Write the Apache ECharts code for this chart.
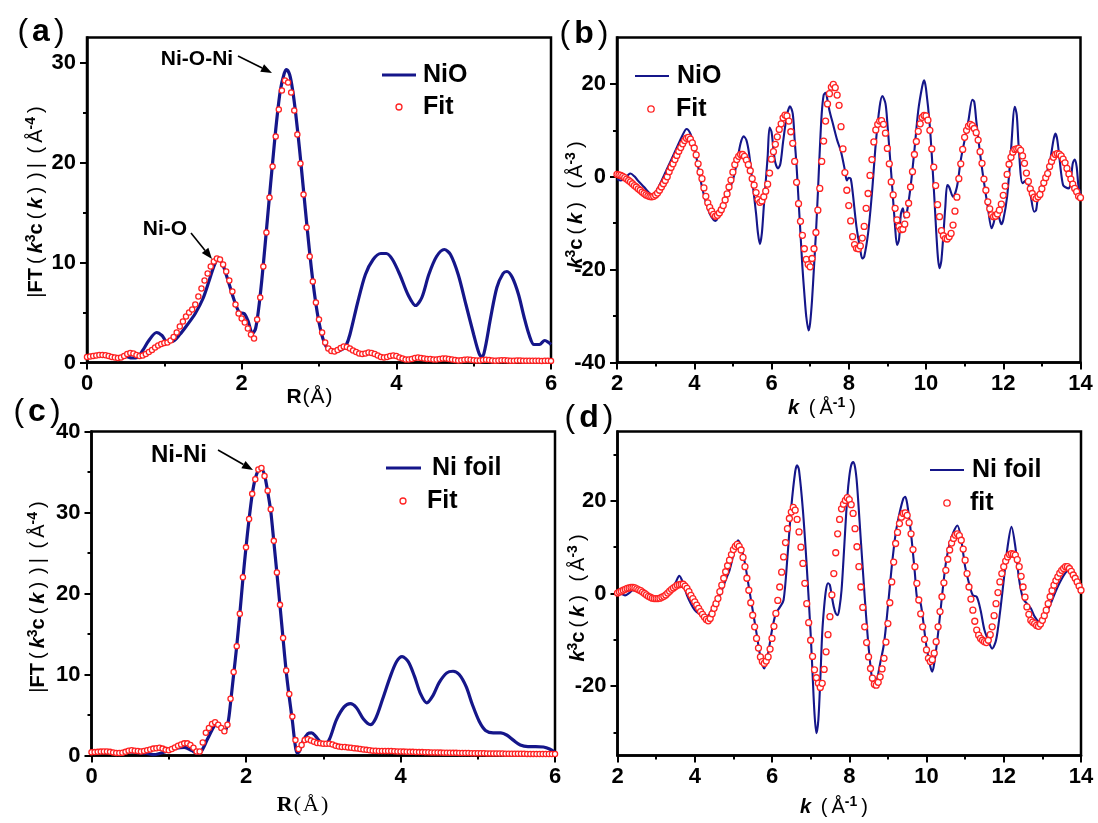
<!DOCTYPE html>
<html>
<head>
<meta charset="utf-8">
<script src="https://cdn.jsdelivr.net/npm/echarts@6/dist/echarts.min.js"></script>
<style>
  html, body { margin: 0; padding: 0; background: #fff; }
  #chart { width: 1098px; height: 823px; }
</style>
</head>
<body>
<div id="chart"></div>
<script>
// ---------- tick positions ----------
const rMajor = [0, 2, 4, 6];
const rMinor = [1, 3, 5];
const kMajor = [2, 4, 6, 8, 10, 12, 14];
const kMinor = [3, 5, 7, 9, 11, 13];
const ftNiOMajor = [0, 10, 20, 30];
const ftNiOMinor = [5, 15, 25];
const ftNiMajor = [0, 10, 20, 30, 40];
const ftNiMinor = [5, 15, 25, 35];
const chiNiOMajor = [-40, -20, 0, 20];
const chiNiOMinor = [-30, -10, 10];
const chiNiMajor = [-20, 0, 20];
const chiNiMinor = [-30, -10, 10, 30];

// ---------- fit sampling ----------
const R_START = 0, R_STEP = 0.04;   // fits in R space
const K_START = 2, K_STEP = 0.05;   // fits in k space

// (a) NiO |FT| measured
const nioFTLine = [
  [0,0.55],[0.1,0.7],[0.2,0.75],[0.3,0.65],[0.4,0.5],[0.5,0.6],[0.58,0.45],[0.65,0.5],[0.72,1.2],[0.8,2.2],
  [0.9,3.0],[0.97,2.7],[1.03,2.1],[1.1,2.1],[1.2,2.8],[1.3,3.8],[1.4,4.9],[1.5,6.4],[1.58,8.2],[1.65,9.8],
  [1.7,10.3],[1.75,9.9],[1.82,8.3],[1.9,6.3],[1.97,5.0],[2.03,4.9],[2.08,4.2],[2.14,2.9],[2.18,3.4],[2.22,5.4],
  [2.26,8.2],[2.3,11.5],[2.35,15.8],[2.4,20.0],[2.45,24.0],[2.5,27.2],[2.55,28.9],[2.58,29.3],[2.62,28.8],[2.66,27.2],
  [2.7,24.8],[2.75,21.2],[2.8,17.2],[2.85,13.2],[2.9,9.5],[2.95,6.4],[3.0,4.0],[3.05,2.4],[3.1,1.5],[3.16,1.15],
  [3.24,1.15],[3.3,1.3],[3.35,1.7],[3.4,2.8],[3.5,6.0],[3.6,8.8],[3.7,10.3],[3.8,10.9],[3.87,10.9],[3.95,10.3],
  [4.05,8.7],[4.15,6.8],[4.25,5.7],[4.33,6.5],[4.42,8.8],[4.52,10.6],[4.62,11.3],[4.7,10.8],[4.8,8.8],[4.9,5.8],
  [5.0,2.8],[5.07,0.9],[5.11,0.5],[5.15,1.5],[5.22,4.5],[5.3,7.5],[5.38,8.9],[5.43,9.1],[5.5,8.5],[5.58,6.8],
  [5.65,4.6],[5.72,2.7],[5.78,1.8],[5.85,1.8],[5.92,2.2],[5.97,2.0],[6.0,1.8]
];
// (a) NiO |FT| fit, R = 0 ... 6
const nioFTFit = [
  0.55,0.6,0.65,0.7,0.75,0.75,0.72,0.65,0.55,0.5,0.45,0.5,0.65,0.85,0.95,0.9,0.75,0.65,0.7,0.85,1.05,1.25,1.5,1.7,1.85,
  1.95,2.0,2.2,2.55,3.0,3.6,4.1,4.6,5.0,5.3,5.8,6.6,7.4,8.2,8.9,9.6,10.1,10.4,10.3,9.8,9.1,8.2,7.1,5.8,4.9,
  4.4,4.0,3.4,2.8,2.4,4.3,6.5,9.6,13.0,16.5,19.6,22.6,25.3,27.2,28.2,28.0,27.0,25.2,22.8,19.9,16.8,13.5,10.6,8.1,6.0,
  4.3,3.0,2.0,1.4,1.15,1.1,1.25,1.45,1.6,1.55,1.4,1.2,1.05,0.9,0.85,0.9,1.0,0.95,0.85,0.7,0.55,0.5,0.55,0.65,0.7,
  0.65,0.5,0.4,0.3,0.3,0.35,0.45,0.5,0.45,0.4,0.35,0.35,0.3,0.3,0.35,0.4,0.4,0.35,0.3,0.25,0.2,0.22,0.28,0.3,0.28,
  0.22,0.2,0.2,0.25,0.28,0.25,0.2,0.18,0.2,0.22,0.22,0.2,0.18,0.18,0.2,0.2,0.18,0.17,0.17,0.18,0.18,0.17,0.16,0.17,0.17,
  0.16
];

// (b) NiO k^3 chi(k) measured
const nioChiLine = [
  [2.00,-0.5],[2.10,-0.8],[2.20,-0.4],[2.30,0.5],[2.35,0.7],[2.45,0.1],[2.55,-0.9],[2.70,-2.2],[2.85,-3.6],[2.92,-4.0],
  [3.00,-3.3],[3.10,-1.8],[3.30,1.8],[3.50,5.4],[3.70,9.0],[3.80,10.3],[3.90,9.3],[4.00,6.5],[4.10,2.2],[4.20,-2.2],
  [4.30,-5.4],[4.40,-7.9],[4.50,-9.3],[4.55,-9.5],[4.60,-9.0],[4.70,-6.5],[4.80,-4.3],[4.90,-2.9],[5.00,-0.7],[5.10,2.9],
  [5.20,7.2],[5.28,8.7],[5.35,7.9],[5.42,5.0],[5.50,-0.7],[5.60,-7.9],[5.65,-12.2],[5.70,-14.5],[5.75,-12.2],[5.80,-6.5],
  [5.90,4.3],[5.95,10.6],[6.00,9.7],[6.05,6.0],[6.10,3.0],[6.17,1.8],[6.23,2.8],[6.30,7.5],[6.40,13.3],[6.48,15.2],
  [6.55,13.6],[6.60,7.9],[6.65,2.2],[6.70,-5.0],[6.75,-12.2],[6.80,-19.4],[6.85,-25.1],[6.90,-30.1],[6.96,-33.1],[7.00,-31.5],
  [7.05,-26.5],[7.10,-19.4],[7.15,-12.2],[7.20,-3.6],[7.25,5.7],[7.30,13.6],[7.35,17.6],[7.40,18.1],[7.45,16.5],[7.50,14.3],
  [7.60,11.1],[7.70,7.9],[7.80,5.4],[7.90,1.4],[7.95,-0.8],[8.00,-0.2],[8.05,-0.4],[8.10,-3.2],[8.20,-10.8],[8.30,-15.8],
  [8.35,-17.6],[8.40,-17.2],[8.50,-12.2],[8.60,-3.6],[8.70,7.2],[8.80,15.1],[8.87,17.4],[8.95,15.8],[9.00,11.5],[9.10,0.7],
  [9.20,-10.8],[9.25,-14.7],[9.30,-13.6],[9.35,-8.0],[9.40,-6.8],[9.45,-8.8],[9.50,-7.9],[9.60,-2.2],[9.70,5.7],[9.80,14.3],
  [9.90,19.4],[9.95,20.8],[10.00,19.0],[10.10,10.8],[10.20,-2.2],[10.30,-16.5],[10.35,-19.7],[10.40,-17.9],[10.50,-6.5],[10.55,-1.8],
  [10.60,-2.2],[10.70,-4.3],[10.80,-2.2],[10.90,3.6],[11.00,7.9],[11.10,12.2],[11.20,16.6],[11.25,16.1],[11.30,12.2],[11.40,5.0],
  [11.50,-1.1],[11.60,-6.5],[11.70,-11.1],[11.75,-10.0],[11.82,-7.9],[11.88,-8.5],[11.95,-10.2],[12.00,-9.3],[12.10,-4.3],[12.20,5.7],
  [12.30,15.1],[12.35,13.3],[12.40,6.5],[12.50,-1.4],[12.60,-0.7],[12.70,-3.6],[12.80,-7.5],[12.85,-7.2],[12.90,-4.3],[13.00,-1.8],
  [13.10,0.4],[13.20,2.9],[13.30,7.9],[13.35,9.3],[13.40,7.9],[13.50,0.7],[13.55,-1.8],[13.60,-2.2],[13.70,-2.5],[13.75,-0.7],
  [13.80,2.9],[13.85,3.7],[13.90,2.2],[13.95,-2.2],[14.00,-3.6]
];
// (b) NiO k^3 chi(k) fit, k = 2 ... 14
const nioChiFit = [
  0.5,0.4,0.3,0.1,-0.2,-0.5,-0.8,-1.1,-1.5,-1.9,-2.2,-2.6,-2.9,-3.3,-3.6,-3.9,-4.1,-4.25,-4.3,-4.2,
  -3.9,-3.5,-2.9,-2.2,-1.5,-0.8,0.0,1.1,2.0,2.8,3.7,4.6,5.5,6.3,7.1,7.8,8.3,8.5,8.1,7.3,
  6.2,4.7,2.8,1.0,-0.4,-2.4,-4.2,-5.6,-6.6,-7.4,-8.1,-8.5,-8.3,-7.8,-7.1,-6.2,-5.0,-3.7,-2.2,-0.7,
  1.0,2.6,3.7,4.4,4.8,4.8,4.4,3.6,2.6,1.3,-0.4,-1.8,-3.4,-4.9,-5.5,-5.2,-4.3,-3.1,-1.6,0.8,
  3.8,5.4,7.0,8.6,10.2,11.4,12.7,13.3,13.1,12.0,9.7,7.2,3.3,-1.2,-5.8,-9.6,-12.6,-15.5,-17.8,-18.9,
  -19.4,-17.6,-15.5,-12.0,-7.2,-2.5,3.3,7.7,12.0,15.7,17.9,19.3,19.9,19.2,17.6,15.4,10.8,6.0,0.9,-2.9,
  -6.2,-9.5,-12.9,-14.6,-15.4,-15.5,-14.9,-13.2,-10.7,-6.8,-3.6,0.3,3.7,7.5,10.1,11.3,12.0,12.1,11.3,9.4,
  6.1,2.8,-1.1,-3.9,-6.8,-9.3,-10.7,-11.4,-11.3,-10.2,-8.2,-5.7,-2.2,1.1,4.8,7.6,9.8,11.4,12.8,13.2,
  13.1,12.2,10.0,6.0,2.1,-1.9,-6.0,-8.6,-11.6,-12.7,-13.3,-13.4,-12.9,-12.2,-10.4,-7.4,-4.4,-0.4,2.8,5.9,
  8.5,10.0,10.9,11.3,11.0,10.4,9.5,7.9,5.4,2.9,-0.5,-2.9,-5.4,-6.9,-8.2,-8.6,-8.5,-8.0,-7.2,-5.9,
  -4.0,-2.0,0.5,2.7,4.2,5.3,5.9,6.0,6.1,5.7,4.5,2.9,0.8,-1.0,-2.6,-3.6,-4.4,-4.7,-4.3,-3.8,
  -2.6,-1.3,-0.2,0.7,2.2,3.3,4.2,4.8,5.0,4.9,4.5,3.8,3.0,1.8,0.6,-0.5,-1.6,-2.5,-3.2,-4.2,
  -4.5
];

// (c) Ni foil |FT| measured
const niFTLine = [
  [0,0.4],[0.2,0.45],[0.4,0.35],[0.5,0.45],[0.6,0.35],[0.7,0.3],[0.8,0.1],[0.9,0.3],[1.0,0.6],[1.1,0.9],
  [1.2,1.0],[1.3,0.6],[1.36,0.3],[1.42,0.5],[1.5,2.0],[1.58,3.5],[1.62,3.9],[1.68,3.5],[1.73,3.1],[1.77,4.2],
  [1.8,6.5],[1.84,10.0],[1.88,13.5],[1.92,17.5],[1.96,21.8],[2.0,25.7],[2.04,29.2],[2.08,32.2],[2.12,34.2],[2.16,35.2],
  [2.2,35.4],[2.24,34.6],[2.28,32.6],[2.32,30.2],[2.36,26.4],[2.4,22.5],[2.44,18.5],[2.48,14.4],[2.52,10.4],[2.56,7.2],
  [2.6,4.3],[2.63,1.8],[2.66,0.3],[2.69,0.5],[2.74,1.8],[2.8,2.7],[2.85,2.8],[2.9,2.4],[2.96,1.7],[3.02,1.35],
  [3.08,2.0],[3.17,4.4],[3.27,6.0],[3.35,6.4],[3.43,5.9],[3.52,4.5],[3.61,3.8],[3.68,4.6],[3.77,7.0],[3.87,9.8],
  [3.95,11.6],[4.02,12.2],[4.1,11.6],[4.18,9.8],[4.26,7.6],[4.34,6.5],[4.42,7.4],[4.5,9.0],[4.6,10.2],[4.68,10.4],
  [4.76,10.0],[4.85,8.5],[4.93,6.3],[5.02,4.2],[5.1,3.1],[5.2,2.8],[5.3,2.8],[5.38,2.5],[5.46,1.9],[5.55,1.3],
  [5.65,1.1],[5.75,1.1],[5.85,1.05],[5.93,0.8],[6.0,0.4]
];
// (c) Ni foil |FT| fit, R = 0 ... 6
const niFTFit = [
  0.4,0.42,0.45,0.48,0.5,0.5,0.45,0.38,0.32,0.3,0.35,0.45,0.6,0.65,0.6,0.55,0.5,0.55,0.65,0.75,0.85,0.9,0.95,0.85,0.7,
  0.65,0.8,1.0,1.2,1.35,1.5,1.5,1.3,0.95,0.5,0.5,1.6,2.8,3.4,3.9,4.1,3.8,3.4,3.0,3.8,7.0,10.3,13.5,17.5,22.0,
  25.7,29.2,32.3,34.1,35.3,35.5,34.5,32.7,30.4,26.5,22.6,18.6,14.5,10.5,7.6,4.8,1.9,0.8,1.3,1.9,2.0,1.85,1.7,1.55,1.5,
  1.45,1.45,1.45,1.35,1.2,1.1,1.05,1.05,1.0,0.95,0.9,0.85,0.8,0.75,0.7,0.65,0.6,0.58,0.55,0.55,0.55,0.55,0.55,0.52,0.5,
  0.5,0.48,0.47,0.45,0.45,0.44,0.42,0.42,0.4,0.4,0.38,0.38,0.37,0.36,0.35,0.35,0.34,0.33,0.33,0.32,0.31,0.3,0.3,0.29,0.28,
  0.28,0.27,0.27,0.26,0.26,0.25,0.25,0.24,0.24,0.23,0.23,0.22,0.22,0.22,0.21,0.21,0.2,0.2,0.2,0.19,0.19,0.19,0.18,0.18,0.18,
  0.18
];

// (d) Ni foil k^3 chi(k) measured
const niChiLine = [
  [2.00,0.0],[2.10,-0.1],[2.20,-0.4],[2.30,0.1],[2.40,0.7],[2.50,0.6],[2.60,0.1],[2.80,-0.7],[3.00,-1.4],[3.10,-1.3],
  [3.20,-0.7],[3.40,0.9],[3.50,2.3],[3.60,3.8],[3.70,2.2],[3.80,-0.4],[3.90,-2.2],[4.00,-3.6],[4.10,-4.3],[4.20,-4.7],
  [4.30,-4.9],[4.40,-4.3],[4.50,-2.2],[4.60,-1.1],[4.70,0.7],[4.80,2.9],[4.90,5.0],[5.00,8.3],[5.12,11.5],[5.20,10.1],
  [5.30,6.5],[5.40,1.4],[5.50,-3.6],[5.60,-8.6],[5.70,-13.7],[5.80,-16.2],[5.90,-12.9],[6.00,-7.9],[6.10,-4.3],[6.20,-3.0],
  [6.30,-1.4],[6.40,7.9],[6.50,18.7],[6.60,26.3],[6.65,27.7],[6.70,26.6],[6.80,18.0],[6.90,5.8],[7.00,-8.6],[7.05,-17.3],
  [7.10,-25.9],[7.15,-30.2],[7.20,-27.3],[7.25,-18.7],[7.30,-8.6],[7.35,-2.9],[7.40,0.9],[7.45,2.2],[7.50,1.8],[7.55,-0.7],
  [7.60,-2.9],[7.65,-4.3],[7.70,-4.7],[7.75,-2.9],[7.80,0.7],[7.85,7.2],[7.90,14.4],[7.95,20.9],[8.00,25.2],[8.05,27.7],
  [8.10,28.4],[8.15,27.3],[8.20,23.7],[8.30,11.5],[8.40,-0.7],[8.50,-11.5],[8.60,-19.1],[8.65,-20.3],[8.70,-19.4],[8.80,-15.1],
  [8.90,-10.8],[9.00,-2.9],[9.10,5.8],[9.20,12.9],[9.30,17.3],[9.40,20.5],[9.45,20.9],[9.50,19.4],[9.60,12.9],[9.70,4.3],
  [9.75,-0.7],[9.80,-1.4],[9.85,-2.2],[9.90,-5.0],[10.00,-11.5],[10.10,-15.8],[10.15,-16.9],[10.20,-15.1],[10.30,-8.6],[10.40,-0.7],
  [10.50,6.5],[10.60,10.8],[10.70,13.3],[10.80,14.7],[10.90,11.5],[11.00,5.8],[11.10,2.2],[11.20,-0.4],[11.30,-0.7],[11.40,-3.6],
  [11.50,-7.9],[11.60,-10.1],[11.70,-11.9],[11.80,-10.1],[11.90,-4.3],[12.00,2.9],[12.10,10.1],[12.20,14.4],[12.30,10.1],[12.40,2.9],
  [12.50,-1.1],[12.60,-2.2],[12.70,-3.2],[12.80,-5.0],[12.90,-6.1],[13.00,-6.5],[13.10,-4.3],[13.20,-2.5],[13.40,1.5],[13.60,4.5],
  [13.70,5.0],[13.80,4.3],[13.90,2.8],[14.00,0.6]
];
// (d) Ni foil k^3 chi(k) fit, k = 2 ... 14
const niChiFit = [
  0.1,0.3,0.5,0.7,0.9,1.1,1.2,1.3,1.3,1.2,1.0,0.8,0.6,0.3,0.0,-0.3,-0.6,-0.8,-1.0,-1.1,
  -1.1,-1.1,-1.0,-0.8,-0.6,-0.3,0.1,0.5,0.9,1.2,1.5,1.8,1.9,2.0,2.0,1.6,1.1,0.4,-0.4,-1.1,
  -1.8,-2.5,-3.2,-3.9,-4.5,-5.1,-5.6,-5.9,-5.4,-4.4,-3.2,-2.2,-1.1,0.4,1.8,3.3,4.7,6.0,7.2,8.4,
  9.5,10.2,10.6,10.2,9.4,7.8,5.8,3.3,0.7,-2.0,-4.7,-7.2,-9.7,-11.8,-13.7,-14.7,-15.1,-14.6,-13.7,-12.0,
  -9.7,-7.1,-4.3,-1.5,1.4,4.6,7.9,11.0,14.0,16.2,17.6,18.6,18.0,16.0,13.3,10.0,6.5,2.2,-2.2,-6.3,
  -10.1,-13.6,-16.5,-18.2,-19.4,-20.3,-19.4,-16.4,-12.6,-8.9,-5.0,-0.3,4.3,8.8,12.9,16.0,18.3,19.3,20.1,20.7,
  20.3,19.2,17.3,14.0,10.1,5.8,1.4,-3.0,-7.2,-10.6,-13.7,-16.2,-18.3,-19.6,-19.8,-19.2,-18.0,-16.3,-14.0,-10.5,
  -6.5,-2.0,2.5,6.8,10.8,13.2,15.1,16.5,17.3,17.4,16.9,15.3,12.9,9.5,5.8,2.2,-1.4,-4.4,-7.2,-9.9,
  -12.2,-14.0,-14.7,-14.3,-12.9,-10.4,-7.2,-3.9,-0.7,2.3,5.0,7.4,9.4,10.9,11.9,12.6,12.9,12.5,11.5,9.6,
  7.2,4.3,1.4,-1.2,-3.6,-6.0,-7.9,-9.0,-9.7,-10.1,-10.4,-10.6,-10.1,-8.9,-7.2,-4.8,-2.2,0.2,2.5,4.3,
  5.8,7.0,7.9,8.4,8.6,8.5,8.3,7.3,5.8,3.7,1.4,-0.8,-2.9,-4.5,-5.8,-6.2,-6.5,-6.9,-7.1,-6.6,
  -5.8,-4.8,-3.6,-2.2,-0.7,0.6,1.8,2.8,3.6,4.4,5.0,5.4,5.8,5.8,5.4,4.8,4.0,3.3,2.5,1.6,
  0.7
];

// ---------- styling ----------
const NAVY = '#15168a';
const RED = '#ff2222';
const SANS = '"Liberation Sans", Arial, sans-serif';
const SERIF = '"Liberation Serif", "Times New Roman", serif';

function sampled(values, start, step) {
  return values.map((v, i) => [+(start + i * step).toFixed(4), v]);
}

function richStyles(fs) {
  const lh = fs + 4;
  const sub = Math.round(fs * 0.68);
  return {
    b:  { fontFamily: SANS, fontWeight: 'bold', fontSize: fs, lineHeight: lh },
    k:  { fontFamily: SANS, fontWeight: 'bold', fontStyle: 'italic', fontSize: fs, lineHeight: lh },
    n:  { fontFamily: SANS, fontWeight: 'normal', fontSize: fs, lineHeight: lh },
    p:  { fontFamily: SANS, fontWeight: 'normal', fontSize: fs, lineHeight: lh, padding: [0, 4] },
    q:  { fontFamily: SANS, fontWeight: 'normal', fontSize: fs, lineHeight: lh, padding: [0, 1] },
    s:  { fontFamily: SANS, fontWeight: 'bold', fontSize: sub, lineHeight: sub, verticalAlign: 'top' },
    r:  { fontFamily: SERIF, fontWeight: 'bold', fontSize: fs, lineHeight: lh },
    rn: { fontFamily: SERIF, fontWeight: 'normal', fontSize: fs, lineHeight: lh, padding: [0, 1] }
  };
}

function label(x, y, text, fs, rot) {
  return {
    type: 'text', x: x, y: y, rotation: rot || 0, z: 100,
    style: {
      text: text, fill: '#000', align: 'center', verticalAlign: 'middle',
      fontFamily: SANS, fontWeight: 'bold', fontSize: fs,
      rich: richStyles(fs)
    }
  };
}

function plain(x, y, text, fs, align) {
  return {
    type: 'text', x: x, y: y, z: 100,
    style: {
      text: text, fill: '#000', align: align || 'left', verticalAlign: 'middle',
      fontFamily: SANS, fontWeight: 'bold', fontSize: fs
    }
  };
}

function arrow(x1, y1, x2, y2) {
  const ang = Math.atan2(y2 - y1, x2 - x1);
  const L = 11, W = 4.2;
  const bx = x2 - L * Math.cos(ang), by = y2 - L * Math.sin(ang);
  const nx = -Math.sin(ang) * W, ny = Math.cos(ang) * W;
  return [
    { type: 'line', z: 100, shape: { x1: x1, y1: y1, x2: bx, y2: by }, style: { stroke: '#000', lineWidth: 1.6 } },
    { type: 'polygon', z: 100, shape: { points: [[x2, y2], [bx + nx, by + ny], [bx - nx, by - ny]] }, style: { fill: '#000' } }
  ];
}

function legendLine(x1, x2, y, w) {
  return { type: 'line', z: 100, shape: { x1: x1, y1: y, x2: x2, y2: y }, style: { stroke: NAVY, lineWidth: w } };
}
function legendDot(cx, cy, r) {
  return { type: 'circle', z: 100, shape: { cx: cx, cy: cy, r: r }, style: { fill: '#fff', stroke: RED, lineWidth: 1.3 } };
}

// main axis (labels + major ticks) and a companion axis carrying the minor ticks
function axisPair(gi, isX, min, max, majors, minors, margin) {
  const pos = isX ? 'bottom' : 'left';
  const main = {
    type: 'value', gridIndex: gi, position: pos, min: min, max: max,
    splitLine: { show: false },
    axisLine: { show: true, onZero: false, lineStyle: { color: '#000', width: 2.5 } },
    axisTick: { show: true, inside: false, length: 7, customValues: majors, lineStyle: { color: '#000', width: 2 } },
    axisLabel: { show: true, customValues: majors, margin: margin, color: '#000',
                 fontFamily: SANS, fontWeight: 'bold', fontSize: 22 }
  };
  const minor = {
    type: 'value', gridIndex: gi, position: pos, min: min, max: max,
    splitLine: { show: false },
    axisLine: { show: false, onZero: false },
    axisTick: { show: true, inside: false, length: 4, customValues: minors, lineStyle: { color: '#000', width: 2 } },
    axisLabel: { show: false }
  };
  return [main, minor];
}

const grids = [
  { left: 87,    top: 37.5,  width: 464,   height: 325 },   // (a)
  { left: 617,   top: 37.5,  width: 463.5, height: 325 },   // (b)
  { left: 91.5,  top: 431.5, width: 463.5, height: 324 },   // (c)
  { left: 617.5, top: 431.5, width: 463.5, height: 324 }    // (d)
].map(g => Object.assign({ show: true, borderColor: '#000', borderWidth: 2.5, backgroundColor: 'transparent' }, g));

const xAxes = [].concat(
  axisPair(0, true, 0, 6, rMajor, rMinor, 10),
  axisPair(1, true, 2, 14, kMajor, kMinor, 10),
  axisPair(2, true, 0, 6, rMajor, rMinor, 10),
  axisPair(3, true, 2, 14, kMajor, kMinor, 10)
);
const yAxes = [].concat(
  axisPair(0, false, 0, 32.5, ftNiOMajor, ftNiOMinor, 11),
  axisPair(1, false, -40, 30, chiNiOMajor, chiNiOMinor, 11),
  axisPair(2, false, 0, 40, ftNiMajor, ftNiMinor, 11),
  axisPair(3, false, -35, 35, chiNiMajor, chiNiMinor, 11)
);

function lineSeries(name, axisIdx, data, width) {
  return {
    name: name, type: 'line', xAxisIndex: axisIdx, yAxisIndex: axisIdx, data: data,
    symbol: 'none', smooth: 0.3, lineStyle: { color: NAVY, width: width }, z: 2,
    silent: true
  };
}
function fitSeries(name, axisIdx, data, size) {
  return {
    name: name, type: 'scatter', xAxisIndex: axisIdx, yAxisIndex: axisIdx, data: data,
    symbol: 'circle', symbolSize: size,
    itemStyle: { color: '#fff', borderColor: RED, borderWidth: 1.3, opacity: 1 }, z: 3,
    silent: true
  };
}

const series = [
  lineSeries('NiO', 0, nioFTLine, 3.2),
  fitSeries('Fit', 0, sampled(nioFTFit, R_START, R_STEP), 5.2),
  lineSeries('NiO', 2, nioChiLine, 2.1),
  fitSeries('Fit', 2, sampled(nioChiFit, K_START, K_STEP), 6),
  lineSeries('Ni foil', 4, niFTLine, 3.2),
  fitSeries('Fit', 4, sampled(niFTFit, R_START, R_STEP), 5.2),
  lineSeries('Ni foil', 6, niChiLine, 2.1),
  fitSeries('fit', 6, sampled(niChiFit, K_START, K_STEP), 6)
];

const ROT = Math.PI / 2;
const graphic = [].concat(
  // panel letters
  label(41, 32, '{p|(}{b|a}{p|)}', 32),
  label(584, 34, '{p|(}{b|b}{p|)}', 32),
  label(37, 412, '{p|(}{b|c}{p|)}', 32),
  label(589, 418, '{p|(}{b|d}{p|)}', 32),
  // axis titles
  label(310, 397, '{b|R}{q|(}{n|Å}{q|)}', 21),
  label(824, 408, '{k|k} {p|(}{n|Å}{s|-1}{p|)}', 20),
  label(303, 805, '{r|R}{rn|(}{rn|Å}{rn|)}', 22),
  label(836, 807, '{k|k} {p|(}{n|Å}{s|-1}{p|)}', 20),
  label(36, 200, '{n||}{b|FT}{p|(}{k|k}{s|3}{b|c}{p|(}{k|k}{p|)}{p|)}{n||} {p|(}{n|Å}{s|-4}{p|)}', 20, ROT),
  label(576, 203, '{k|k}{s|3}{b|c}{p|(}{k|k}{p|)} {p|(}{n|Å}{s|-3}{p|)}', 20, ROT),
  label(38, 595, '{n||}{b|FT}{p|(}{k|k}{s|3}{b|c}{p|(}{k|k}{p|)}{p|)}{n||} {p|(}{n|Å}{s|-4}{p|)}', 20, ROT),
  label(578, 596, '{k|k}{s|3}{b|c}{p|(}{k|k}{p|)} {p|(}{n|Å}{s|-3}{p|)}', 20, ROT),
  // legends
  legendLine(382, 416, 75, 3.2), plain(423, 75, 'NiO', 25), legendDot(399, 107, 3), plain(423, 107, 'Fit', 25),
  legendLine(635, 669, 76, 2.1), plain(677, 76, 'NiO', 25), legendDot(651, 109, 3.2), plain(676, 109, 'Fit', 25),
  legendLine(386, 421, 468, 3.2), plain(432, 468, 'Ni foil', 25), legendDot(403, 501, 3), plain(427, 501, 'Fit', 25),
  legendLine(930, 964, 470, 2.1), plain(972, 470, 'Ni foil', 25), legendDot(947, 503, 3.2), plain(970, 503, 'fit', 25),
  // peak annotations
  plain(197, 59, 'Ni-O-Ni', 21, 'center'),
  arrow(238, 56, 272, 73),
  plain(165, 229, 'Ni-O', 21, 'center'),
  arrow(191, 233, 212, 259),
  plain(179, 455, 'Ni-Ni', 24, 'center'),
  arrow(218, 450, 253, 470)
);

const chart = echarts.init(document.getElementById('chart'), null, { renderer: 'canvas' });
chart.setOption({
  animation: false,
  backgroundColor: '#fff',
  grid: grids,
  xAxis: xAxes,
  yAxis: yAxes,
  series: series,
  graphic: graphic
});
</script>
</body>
</html>
